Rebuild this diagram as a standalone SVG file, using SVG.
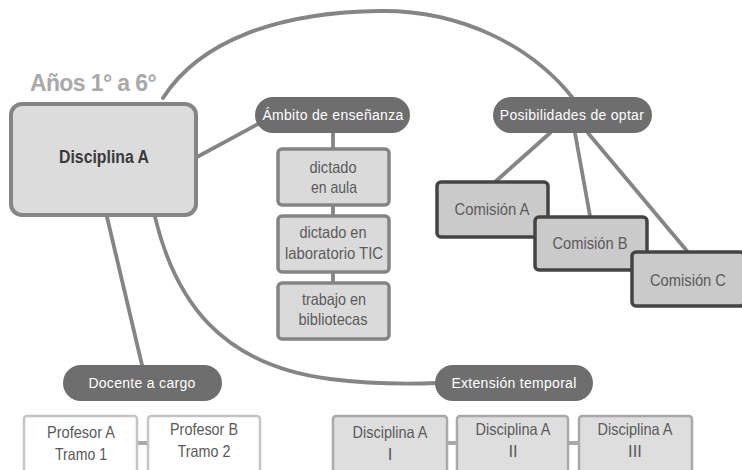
<svg xmlns="http://www.w3.org/2000/svg" width="742" height="470" viewBox="0 0 742 470">
<style>
text{font-family:"Liberation Sans",Arial,sans-serif;text-anchor:middle}
.ln{fill:none;stroke:#858585;stroke-width:3.8;stroke-linecap:round}
.pill{fill:#6e6e6e}
.pt{fill:#ffffff;font-size:14px;letter-spacing:0.3px}
.gb{fill:#dadada;stroke:#848484;stroke-width:3.5}
.bt{fill:#5a5a5a;font-size:16.5px}
.cb{fill:#cacaca;stroke:#444444;stroke-width:3.5}
.wb{fill:#ffffff;stroke:#c4c4c4;stroke-width:2.5}
.db{fill:#dedede;stroke:#a9a9a9;stroke-width:2.5}
.sc{stroke:#a9a9a9;stroke-width:4}
</style>
<rect width="742" height="470" fill="#ffffff"/>
<g id="connectors">
<path class="ln" d="M163,98 C200,40 280,12 380,11 C460,10 530,45 572,97"/>
<path class="ln" d="M155,217 C175,300 220,365 330,379 C370,384 410,384 437,383"/>
<line class="ln" x1="197" y1="157" x2="258" y2="124"/>
<line class="ln" x1="107" y1="217" x2="142" y2="365"/>
<line class="ln" x1="333" y1="133" x2="333" y2="149"/>
<line class="ln" x1="333" y1="205" x2="333" y2="216"/>
<line class="ln" x1="333" y1="272" x2="333" y2="283"/>
<line class="ln" x1="550" y1="133" x2="495" y2="182"/>
<line class="ln" x1="575" y1="133" x2="590" y2="216"/>
<line class="ln" x1="588" y1="133" x2="687" y2="251"/>
<line class="sc" x1="137" y1="443" x2="148" y2="443"/>
<line class="sc" x1="447" y1="443" x2="457" y2="443"/>
<line class="sc" x1="568" y1="443" x2="579" y2="443"/>
</g>
<g id="anos">
<text x="93" y="91" style="font-size:23px;font-weight:bold;fill:#a9a9a9;letter-spacing:-0.6px">Años 1° a 6°</text>
</g>
<g id="disciplina">
<rect x="11" y="104" width="185" height="111" rx="11" fill="#dcdcdc" stroke="#858585" stroke-width="4"/>
<text x="104" y="163" textLength="90" lengthAdjust="spacingAndGlyphs" style="font-size:18px;font-weight:bold;fill:#3a3a3a">Disciplina A</text>
</g>
<g id="ambito">
<rect class="pill" x="255" y="97" width="155" height="36" rx="18"/>
<text class="pt" x="333" y="120">Ámbito de enseñanza</text>
</g>
<g id="aula">
<rect class="gb" x="278" y="149" width="111" height="56" rx="4"/>
<text class="bt" x="333" y="173" textLength="47" lengthAdjust="spacingAndGlyphs">dictado</text>
<text class="bt" x="334" y="193" textLength="46" lengthAdjust="spacingAndGlyphs">en aula</text>
</g>
<g id="laboratorio">
<rect class="gb" x="278" y="216" width="111" height="56" rx="4"/>
<text class="bt" x="333" y="238" textLength="67" lengthAdjust="spacingAndGlyphs">dictado en</text>
<text class="bt" x="334" y="259" textLength="98" lengthAdjust="spacingAndGlyphs">laboratorio TIC</text>
</g>
<g id="bibliotecas">
<rect class="gb" x="278" y="283" width="111" height="56" rx="4"/>
<text class="bt" x="334" y="305" textLength="64" lengthAdjust="spacingAndGlyphs">trabajo en</text>
<text class="bt" x="333" y="325" textLength="69" lengthAdjust="spacingAndGlyphs">bibliotecas</text>
</g>
<g id="posibilidades">
<rect class="pill" x="493" y="97" width="159" height="36" rx="18"/>
<text class="pt" x="572" y="120">Posibilidades de optar</text>
</g>
<g id="comisionA">
<rect class="cb" x="437" y="182" width="111" height="55" rx="4"/>
<text class="bt" x="492" y="215" textLength="75" lengthAdjust="spacingAndGlyphs">Comisión A</text>
</g>
<g id="comisionB">
<rect class="cb" x="535" y="217" width="112" height="53" rx="4"/>
<text class="bt" x="590" y="249" textLength="75" lengthAdjust="spacingAndGlyphs">Comisión B</text>
</g>
<g id="comisionC">
<rect class="cb" x="632" y="252" width="112" height="54" rx="4"/>
<text class="bt" x="688" y="286" textLength="76" lengthAdjust="spacingAndGlyphs">Comisión C</text>
</g>
<g id="docente">
<rect class="pill" x="63" y="365" width="159" height="36" rx="18"/>
<text class="pt" x="142" y="388">Docente a cargo</text>
</g>
<g id="extension">
<rect class="pill" x="435" y="365" width="158" height="36" rx="18"/>
<text class="pt" x="514" y="388">Extensión temporal</text>
</g>
<g id="profesorA">
<rect class="wb" x="24" y="416" width="113" height="60" rx="3"/>
<text class="bt" x="81" y="438" textLength="68" lengthAdjust="spacingAndGlyphs">Profesor A</text>
<text class="bt" x="81" y="460" textLength="52" lengthAdjust="spacingAndGlyphs">Tramo 1</text>
</g>
<g id="profesorB">
<rect class="wb" x="148" y="416" width="112" height="60" rx="3"/>
<text class="bt" x="204" y="435" textLength="68" lengthAdjust="spacingAndGlyphs">Profesor B</text>
<text class="bt" x="204" y="457" textLength="53" lengthAdjust="spacingAndGlyphs">Tramo 2</text>
</g>
<g id="disciplinaI">
<rect class="db" x="333" y="416" width="114" height="60" rx="3"/>
<text class="bt" x="390" y="438" textLength="75" lengthAdjust="spacingAndGlyphs">Disciplina A</text>
<text class="bt" x="390" y="460">I</text>
</g>
<g id="disciplinaII">
<rect class="db" x="457" y="416" width="111" height="60" rx="3"/>
<text class="bt" x="513" y="435" textLength="75" lengthAdjust="spacingAndGlyphs">Disciplina A</text>
<text class="bt" x="513" y="457">II</text>
</g>
<g id="disciplinaIII">
<rect class="db" x="579" y="416" width="113" height="60" rx="3"/>
<text class="bt" x="635" y="435" textLength="75" lengthAdjust="spacingAndGlyphs">Disciplina A</text>
<text class="bt" x="635" y="457">III</text>
</g>
</svg>
